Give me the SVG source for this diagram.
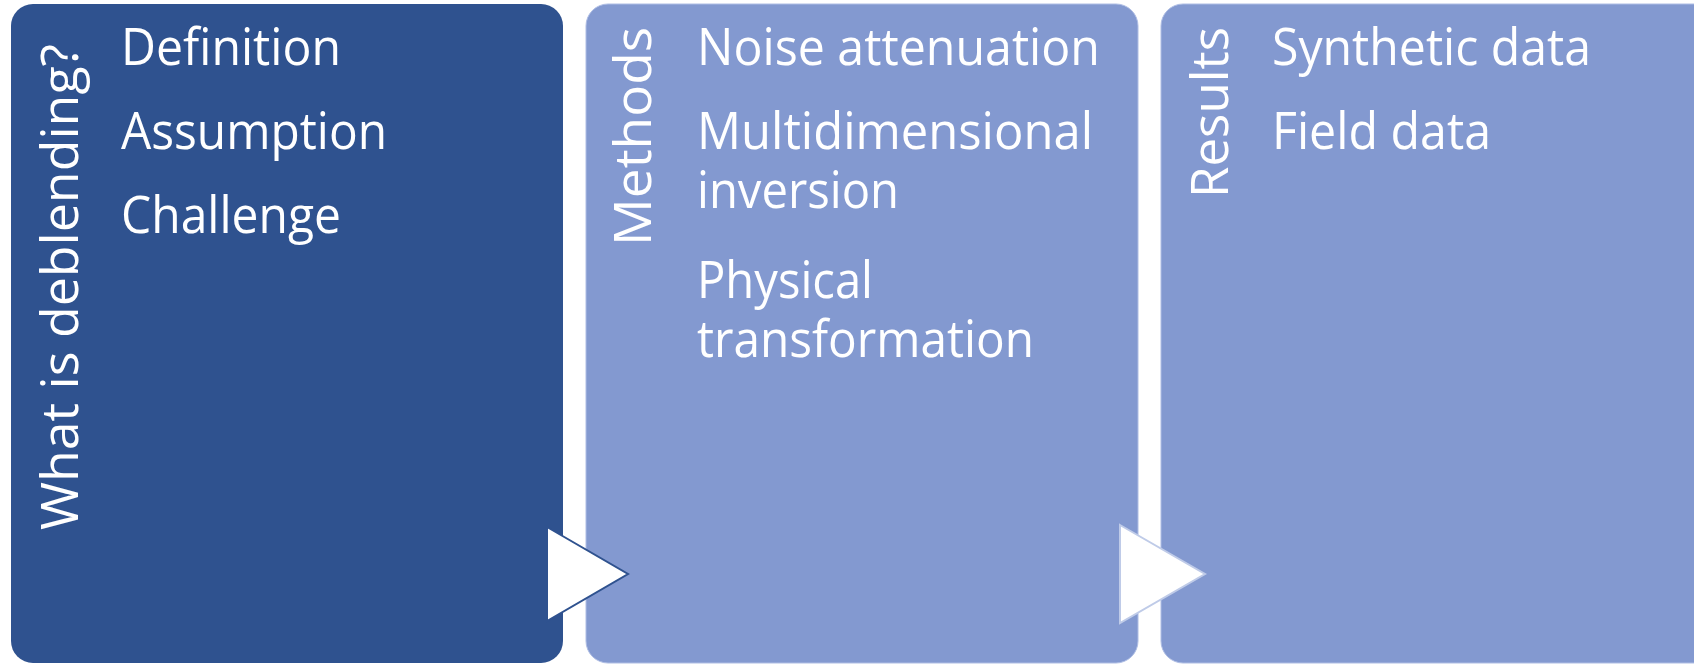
<svg xmlns="http://www.w3.org/2000/svg" width="1694" height="664" viewBox="0 0 1694 664">
<style>
.dark{fill:#2f528f;}
.light{fill:#8399d0;stroke:#aebde4;stroke-width:1;}
.t{font-family:"Open Sans","Noto Sans",sans-serif;font-size:52px;fill:#ffffff;}
</style>
<rect width="1694" height="664" fill="#ffffff"/>
<g id="panel1">
<rect class="dark" x="11" y="4" width="552" height="659" rx="22"/>
<text class="t" transform="translate(78,530) rotate(-90)" textLength="486" lengthAdjust="spacingAndGlyphs">What is deblending?</text>
<text class="t" x="121" y="65" textLength="220" lengthAdjust="spacingAndGlyphs">Definition</text>
<text class="t" x="121" y="149" textLength="266" lengthAdjust="spacingAndGlyphs">Assumption</text>
<text class="t" x="121" y="233" textLength="220" lengthAdjust="spacingAndGlyphs">Challenge</text>
</g>
<g id="panel2">
<rect class="light" x="586" y="4" width="552" height="659" rx="22"/>
<text class="t" transform="translate(651,246) rotate(-90)" textLength="219" lengthAdjust="spacingAndGlyphs">Methods</text>
<text class="t" x="697" y="65" textLength="403" lengthAdjust="spacingAndGlyphs">Noise attenuation</text>
<text class="t" x="697" y="149" textLength="396" lengthAdjust="spacingAndGlyphs">Multidimensional</text>
<text class="t" x="697" y="208" textLength="202" lengthAdjust="spacingAndGlyphs">inversion</text>
<text class="t" x="697" y="298" textLength="176" lengthAdjust="spacingAndGlyphs">Physical</text>
<text class="t" x="697" y="357" textLength="337" lengthAdjust="spacingAndGlyphs">transformation</text>
</g>
<g id="panel3">
<rect class="light" x="1161" y="4" width="560" height="659" rx="22"/>
<text class="t" transform="translate(1228,198) rotate(-90)" textLength="171" lengthAdjust="spacingAndGlyphs">Results</text>
<text class="t" x="1272" y="65" textLength="319" lengthAdjust="spacingAndGlyphs">Synthetic data</text>
<text class="t" x="1272" y="149" textLength="219" lengthAdjust="spacingAndGlyphs">Field data</text>
</g>
<g id="connectors">
<polygon points="547,527 628,574 547,621" fill="#ffffff" stroke="#2f528f" stroke-width="2"/>
<polygon points="1120,525 1205,574 1120,623" fill="#ffffff" stroke="#bfcbe8" stroke-width="2"/>
</g>
</svg>
